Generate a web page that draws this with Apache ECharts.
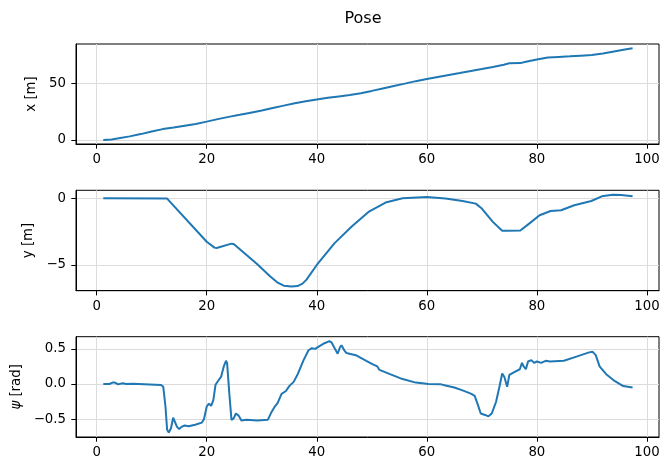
<!DOCTYPE html>
<html>
<head>
<meta charset="utf-8">
<script src="https://cdn.jsdelivr.net/npm/echarts@6/dist/echarts.min.js"></script>
<style>
html,body{margin:0;padding:0;background:#fff;}
#c{width:672px;height:461px;}
</style>
</head>
<body>
<div id="c"></div>
<script>
// ---- data ----
const titleText = 'Pose';
const xTicks = [0, 20, 40, 60, 80, 100];
const yTicksX = [0, 50];
const yTicksY = [-5, 0];
const yTicksPsi = [-0.5, 0, 0.5];

const tX = [1.2, 2.7, 4, 6, 8, 10, 12, 14, 16, 18, 20, 22, 24, 26, 28, 30, 32, 34, 36, 38, 40, 42, 44, 46, 48, 50, 52, 54, 56, 58, 60, 62, 64, 66, 68, 70, 72, 74, 75, 77, 78, 80, 82, 84, 86, 88, 90, 92, 94, 96, 97.4];
const xPos = [0, 0.5, 1.5, 3.2, 5.2, 7.5, 9.6, 11, 12.6, 14.2, 16.2, 18.4, 20.4, 22.2, 24.1, 26, 28.2, 30.3, 32.4, 34.2, 35.8, 37.2, 38.4, 39.6, 41.2, 43.3, 45.5, 47.6, 49.7, 51.9, 53.8, 55.6, 57.4, 59.1, 60.9, 62.6, 64.4, 66.4, 67.6, 67.8, 69, 71, 72.8, 73.3, 73.8, 74.4, 75, 76.2, 78, 79.8, 81];

const tY = [1.2, 12.8, 20, 21.4, 21.8, 24.5, 24.9, 29.2, 31.5, 32.8, 34, 35.4, 36.5, 37.4, 38.1, 40, 43.2, 46.3, 49.4, 52.5, 55.6, 60, 63.4, 66.5, 68.9, 70, 72, 73.7, 74.7, 77, 78.6, 80.5, 82.5, 84.4, 86.8, 89.9, 91.8, 93.8, 95.3, 97.4];
const yPos = [0, -0.02, -3.26, -3.7, -3.73, -3.4, -3.42, -4.95, -5.85, -6.3, -6.55, -6.62, -6.58, -6.4, -6.12, -5, -3.38, -2.14, -1.02, -0.32, 0, 0.1, -0.02, -0.2, -0.4, -0.77, -1.77, -2.44, -2.44, -2.41, -1.9, -1.27, -0.95, -0.9, -0.52, -0.2, 0.15, 0.27, 0.25, 0.15];

const tPsi = [1.2, 2.3, 2.9, 3.3, 3.9, 4.7, 5.4, 6.6, 11.7, 12.1, 12.5, 12.8, 13.1, 13.5, 13.9, 14.2, 14.6, 15, 15.4, 16, 16.7, 17.9, 19.1, 19.5, 20, 20.4, 20.8, 21.2, 21.6, 22.2, 22.6, 23.1, 23.5, 23.7, 24.1, 24.5, 24.9, 25.3, 25.8, 26.3, 27.2, 29.2, 31.1, 31.7, 32.3, 32.9, 33.6, 34.4, 35, 35.8, 36.6, 37.6, 38.5, 39.1, 39.7, 40.5, 41.4, 42.3, 42.7, 43.3, 43.8, 44.2, 44.5, 45, 45.4, 47.1, 49, 50.2, 51, 51.4, 53.3, 55.6, 58, 60.3, 62.6, 63.4, 65, 66.5, 68.1, 68.7, 69.3, 69.8, 70.6, 71.2, 71.8, 72.6, 73.2, 73.7, 74.1, 74.6, 75, 75.9, 76.9, 77.3, 77.6, 78, 78.4, 79, 79.5, 80, 80.8, 81.6, 82.4, 84.9, 87.2, 89.5, 90.1, 90.7, 91.4, 92.6, 94.2, 95.7, 97.4];
const psi = [0, 0, 0.02, 0.02, -0.005, 0.01, 0, 0.005, -0.015, -0.04, -0.32, -0.65, -0.69, -0.63, -0.48, -0.5, -0.61, -0.64, -0.61, -0.59, -0.6, -0.58, -0.55, -0.5, -0.32, -0.28, -0.31, -0.23, -0.01, 0.06, 0.1, 0.25, 0.33, 0.3, -0.13, -0.51, -0.49, -0.42, -0.45, -0.52, -0.51, -0.52, -0.51, -0.41, -0.33, -0.27, -0.14, -0.1, -0.03, 0.03, 0.15, 0.34, 0.48, 0.51, 0.5, 0.54, 0.58, 0.61, 0.59, 0.5, 0.43, 0.52, 0.55, 0.48, 0.44, 0.41, 0.33, 0.28, 0.25, 0.2, 0.14, 0.07, 0.02, 0, -0.005, -0.02, -0.05, -0.09, -0.14, -0.17, -0.3, -0.42, -0.44, -0.46, -0.42, -0.25, -0.04, 0.15, 0.1, -0.04, 0.13, 0.17, 0.21, 0.3, 0.25, 0.21, 0.32, 0.34, 0.3, 0.32, 0.3, 0.33, 0.32, 0.33, 0.39, 0.45, 0.46, 0.41, 0.25, 0.14, 0.04, -0.03, -0.05];

const yLabels = ['x [m]', 'y [m]', '{i|ψ} [rad]'];

// ---- chart ----
const FONT = 'DejaVu Sans';
const FS = 13.3;
const minus = s => String(s).replace('-', '\u2212');
const zip = (a, b) => a.map((v, i) => [v, b[i]]);

const grids = [
  {left: 76, top: 44, width: 583, height: 100},
  {left: 76, top: 190.3, width: 583, height: 100.4},
  {left: 76, top: 336.7, width: 583, height: 100.3}
].map(g => Object.assign(g, {show: true, borderColor: '#000', borderWidth: 1, containLabel: false}));

const yRanges = [[-3.53, 84.66], [-6.93, 0.6], [-0.754, 0.673]];
const yTickSets = [yTicksX, yTicksY, yTicksPsi];
const yFmt = [v => minus(v), v => minus(v), v => minus(Number(v).toFixed(1))];

const xAxes = [0, 1, 2].map(i => ({
  type: 'value', gridIndex: i, min: -3.76, max: 102.2,
  axisLine: {show: true, onZero: false, lineStyle: {color: '#000', width: 1}},
  axisTick: {show: true, length: 4.7, inside: false, customValues: xTicks, lineStyle: {color: '#000', width: 1}},
  axisLabel: {show: true, customValues: xTicks, margin: 9, color: '#000', fontFamily: FONT, fontSize: FS, formatter: v => minus(v)},
  splitLine: {show: true, lineStyle: {color: '#dcdcdc', width: 1}}
}));

const yAxes = [0, 1, 2].map(i => ({
  type: 'value', gridIndex: i, min: yRanges[i][0], max: yRanges[i][1],
  name: yLabels[i], nameLocation: 'middle', nameGap: 36, nameRotate: 90,
  nameTextStyle: {color: '#000', fontFamily: FONT, fontSize: FS,
    rich: {i: {fontStyle: 'italic', fontFamily: FONT, fontSize: FS, color: '#000'}}},
  axisLine: {show: true, onZero: false, lineStyle: {color: '#000', width: 1}},
  axisTick: {show: true, length: 4.7, inside: false, customValues: yTickSets[i], lineStyle: {color: '#000', width: 1}},
  axisLabel: {show: true, customValues: yTickSets[i], margin: 10, color: '#000', fontFamily: FONT, fontSize: FS, formatter: yFmt[i]},
  splitLine: {show: true, lineStyle: {color: '#dcdcdc', width: 1}}
}));

const lineSeries = (i, data) => ({
  type: 'line', xAxisIndex: i, yAxisIndex: i, data: data,
  showSymbol: false, smooth: false, animation: false,
  lineStyle: {color: '#1f77b4', width: 2}, clip: true
});

const chart = echarts.init(document.getElementById('c'), null, {renderer: 'canvas'});
chart.setOption({
  animation: false,
  backgroundColor: '#fff',
  title: {text: titleText, left: 358, top: 6, textAlign: 'center',
    textStyle: {fontFamily: FONT, fontSize: 16, fontWeight: 'normal', color: '#000'}},
  grid: grids,
  xAxis: xAxes,
  yAxis: yAxes,
  series: [lineSeries(0, zip(tX, xPos)), lineSeries(1, zip(tY, yPos)), lineSeries(2, zip(tPsi, psi))]
});
</script>
</body>
</html>
